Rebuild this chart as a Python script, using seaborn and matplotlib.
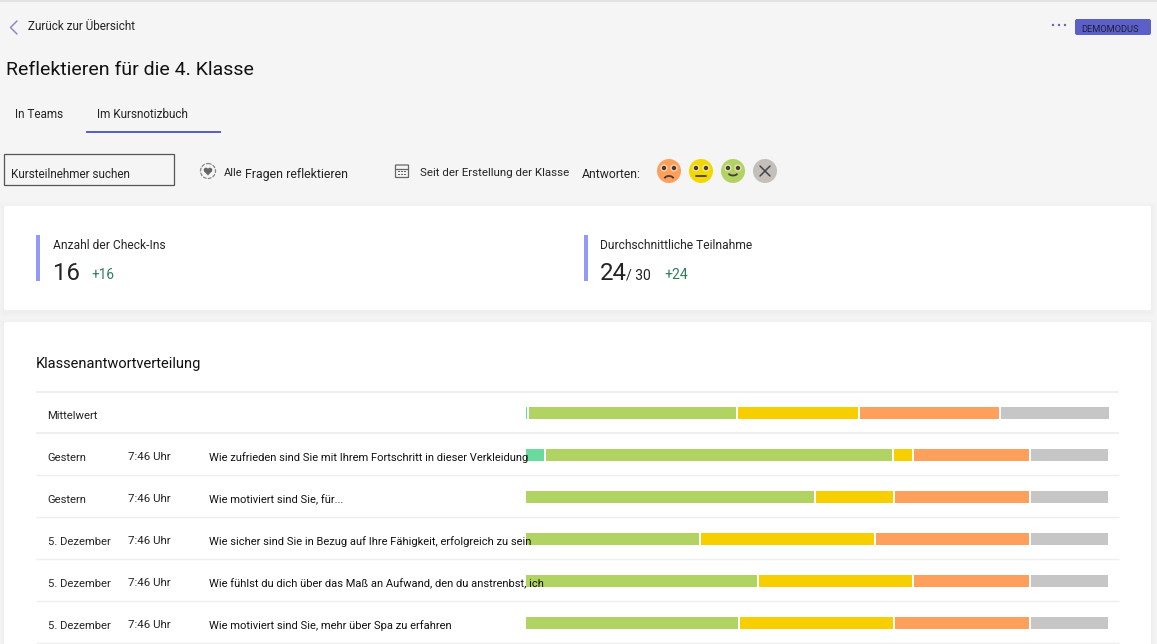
import numpy as np
import matplotlib
matplotlib.use('Agg')
import matplotlib.pyplot as plt
from matplotlib.patches import Rectangle, Circle, FancyBboxPatch, Arc, Polygon
import seaborn as sns

# Answer categories, drawn left to right
answer_names = ['sehr gut', 'gut', 'mittel', 'schlecht', 'keine Antwort']
answer_colors = ['#69DB9D', '#B0D361', '#F7CF00', '#FF9F5C', '#C6C6C6']

# Number of students (of 30) per row, first row is the class mean
sehr_gut = [0.15, 1.05, 0, 0, 0, 0]
gut = [10.77, 17.9, 14.95, 9, 12, 11]
mittel = [6.28, 1.05, 4.05, 9, 8, 8]
schlecht = [7.26, 6, 7, 8, 6, 7]
keine_antwort = [5.66, 4.05, 4.05, 4.05, 4.05, 4.05]
axis_max = 31

row_dates = ['Mittelwert', 'Gestern', 'Gestern', '5. Dezember', '5. Dezember', '5. Dezember']
row_times = ['', '7:46 Uhr', '7:46 Uhr', '7:46 Uhr', '7:46 Uhr', '7:46 Uhr']
row_questions = [
    '',
    'Wie zufrieden sind Sie mit Ihrem Fortschritt in dieser Verkleidung',
    'Wie motiviert sind Sie, für...',
    'Wie sicher sind Sie in Bezug auf Ihre Fähigkeit, erfolgreich zu sein',
    'Wie fühlst du dich über das Maß an Aufwand, den du anstrenbst, ich',
    'Wie motiviert sind Sie, mehr über Spa zu erfahren',
]

sns.set_theme(style='white')
plt.rcParams['font.family'] = ['Roboto', 'DejaVu Sans']

W, H = 1157, 644
fig = plt.figure(figsize=(W / 100, H / 100), dpi=100, facecolor='#F5F5F5')


def pixel_axes(zorder):
    # axes covering the whole figure, in screen pixels
    a = fig.add_axes([0, 0, 1, 1], zorder=zorder)
    a.set_xlim(0, W)
    a.set_ylim(H, 0)
    a.axis('off')
    return a


def px(size):
    return size * 0.72


bg = pixel_axes(0)
ui = pixel_axes(2)

# top border
bg.add_patch(Rectangle((0, 0), W, 1.5, color='#E2E2E2', lw=0))


# cards with a soft shadow
def card(x0, y0, x1, y1):
    for grow in [6, 5, 4, 3, 2, 1]:
        bg.add_patch(Rectangle((x0 - grow, y0 - grow + 2), x1 - x0 + 2 * grow, y1 - y0 + 2 * grow,
                               color='black', alpha=0.004, lw=0))
    bg.add_patch(FancyBboxPatch((x0 + 2, y0 + 2), x1 - x0 - 4, y1 - y0 - 4,
                                boxstyle='round,pad=2', fc='white', ec='none'))


card(4, 206, 1151, 310)
card(4, 322, 1151, 660)

# separators of the table
bg.hlines([392, 433], 36, 1119, color='#EFEFEF', lw=1.5)
bg.hlines([475, 517, 559, 601, 643], 36, 1119, color='#EFEFEF', lw=1)

# stacked bars, one axes in the table area, 19.42 px per student
bars = fig.add_axes([525 / W, 0, 19.42 * axis_max / W, (H - 392) / H], zorder=1)
bars.patch.set_alpha(0)
series = [sehr_gut, gut, mittel, schlecht, keine_antwort]
row_ids = list(range(len(row_dates)))
left = np.zeros(len(row_ids))
for values, color in zip(series, answer_colors):
    sns.barplot(x=values, y=row_ids, orient='h', color=color, saturation=1, width=1 / 3,
                left=left, edgecolor='white', linewidth=1.44, errorbar=None, ax=bars, legend=False)
    left = left + np.array(values)
bars.set_xlim(0, axis_max)
bars.set_ylim(len(row_ids) - 0.5, -0.5)
bars.axis('off')

# header
DARK = '#242424'
PURPLE = '#5B5FC7'
ui.plot([17, 10.5, 17], [21, 27.5, 34], color='#8B8CC7', lw=1.1)
ui.text(28, 30, 'Zurück zur Übersicht', fontsize=px(11.7), color=DARK)
ui.text(6, 75, 'Reflektieren für die 4. Klasse', fontsize=px(19.5), color='#111111')
ui.text(15, 118, 'In Teams', fontsize=px(11.8), color=DARK)
ui.text(97, 118, 'Im Kursnotizbuch', fontsize=px(11.7), color=DARK)
ui.add_patch(Rectangle((86, 131), 135, 2, color=PURPLE, lw=0))
for x in [1053, 1059, 1065]:
    ui.add_patch(Circle((x, 25), 1.2, color='#6264A7', lw=0))
ui.add_patch(FancyBboxPatch((1077, 21), 72, 12, boxstyle='round,pad=2', fc=PURPLE, ec='none'))
ui.text(1081, 31.5, 'DEMOMODUS', fontsize=px(9.3), color='#1F1F3A')

# filter row
ui.add_patch(FancyBboxPatch((5, 155), 169, 30, boxstyle='round,pad=0.5', fc='none', ec='#555555', lw=0.9))
ui.text(11, 178, 'Kursteilnehmer suchen', fontsize=px(11.8), color=DARK)
ui.add_patch(Circle((208, 171), 7.5, fc='none', ec='#888888', lw=0.9, ls=(0, (3, 1))))
ui.add_patch(Circle((206, 170), 2.3, color='#666666', lw=0))
ui.add_patch(Circle((210, 170), 2.3, color='#666666', lw=0))
ui.add_patch(Polygon([(204, 171), (212, 171), (208, 175.5)], color='#666666', lw=0))
ui.text(224, 176, 'Alle', fontsize=px(11), color=DARK)
ui.text(245, 178, 'Fragen reflektieren', fontsize=px(12.4), color=DARK)
ui.add_patch(FancyBboxPatch((396, 165.5), 12, 11.5, boxstyle='round,pad=0.5', fc='none', ec='#666666', lw=0.9))
ui.plot([396, 408], [168.5, 168.5], color='#666666', lw=0.9)
for x in [399, 402, 405]:
    for y in [171.5, 174.5]:
        ui.add_patch(Rectangle((x - 0.7, y - 0.7), 1.4, 1.4, color='#666666', lw=0))
ui.text(420, 176, 'Seit der Erstellung der Klasse', fontsize=px(11.45), color=DARK)
ui.text(582, 178, 'Antworten:', fontsize=px(12.1), color=DARK)

# answer faces
EYE = '#4A3A3A'
for cx, color in zip([669, 701, 733], ['#FF9F5C', '#F0D800', '#B0D361']):
    ui.add_patch(Circle((cx, 171), 12, color=color, lw=0))
    for dx in [-5, 5]:
        ui.add_patch(Circle((cx + dx, 168), 3.6, color='#F7F0D0', alpha=0.7, lw=0))
        ui.add_patch(Circle((cx + dx, 168), 2.2, color=EYE, lw=0))
ui.add_patch(Arc((669, 180), 10, 8, theta1=200, theta2=340, color=EYE, lw=1.3))
ui.plot([696, 706], [175.5, 175.5], color=EYE, lw=1.3)
ui.add_patch(Arc((733, 172), 10, 7, theta1=20, theta2=160, color=EYE, lw=1.3))
ui.add_patch(Circle((765, 171), 12, color='#C4BFBA', lw=0))
ui.plot([760, 770], [166, 176], color='#444444', lw=1.1)
ui.plot([760, 770], [176, 166], color='#444444', lw=1.1)

# key figures
for x in [36, 584]:
    ui.add_patch(Rectangle((x, 235), 4, 46, color='#9499F5', lw=0))
GREEN = '#2F7D5B'
ui.text(53, 249, 'Anzahl der Check-Ins', fontsize=px(12), color=DARK)
ui.text(53, 280, '16', fontsize=px(24), color=DARK)
ui.text(91, 279, '+16', fontsize=px(13.5), color=GREEN)
ui.text(600, 249, 'Durchschnittliche Teilnahme', fontsize=px(12), color=DARK)
ui.text(600, 280, '24', fontsize=px(24), color=DARK)
ui.text(626, 279, '/ 30', fontsize=px(14), color=DARK)
ui.text(664, 279, '+24', fontsize=px(14), color=GREEN)

# table
ui.text(36, 368, 'Klassenantwortverteilung', fontsize=px(14.65), color='#111111')
for i, (d, t, q) in enumerate(zip(row_dates, row_times, row_questions)):
    base = 419 + 42 * i
    ui.text(47.5, base, d, fontsize=px(11.2), color=DARK)
    ui.text(128, base - 1, t, fontsize=px(11.5), color=DARK)
    ui.text(209, base, q, fontsize=px(11.15), color='#111111')

fig.savefig('out.png', dpi=100, facecolor=fig.get_facecolor())
